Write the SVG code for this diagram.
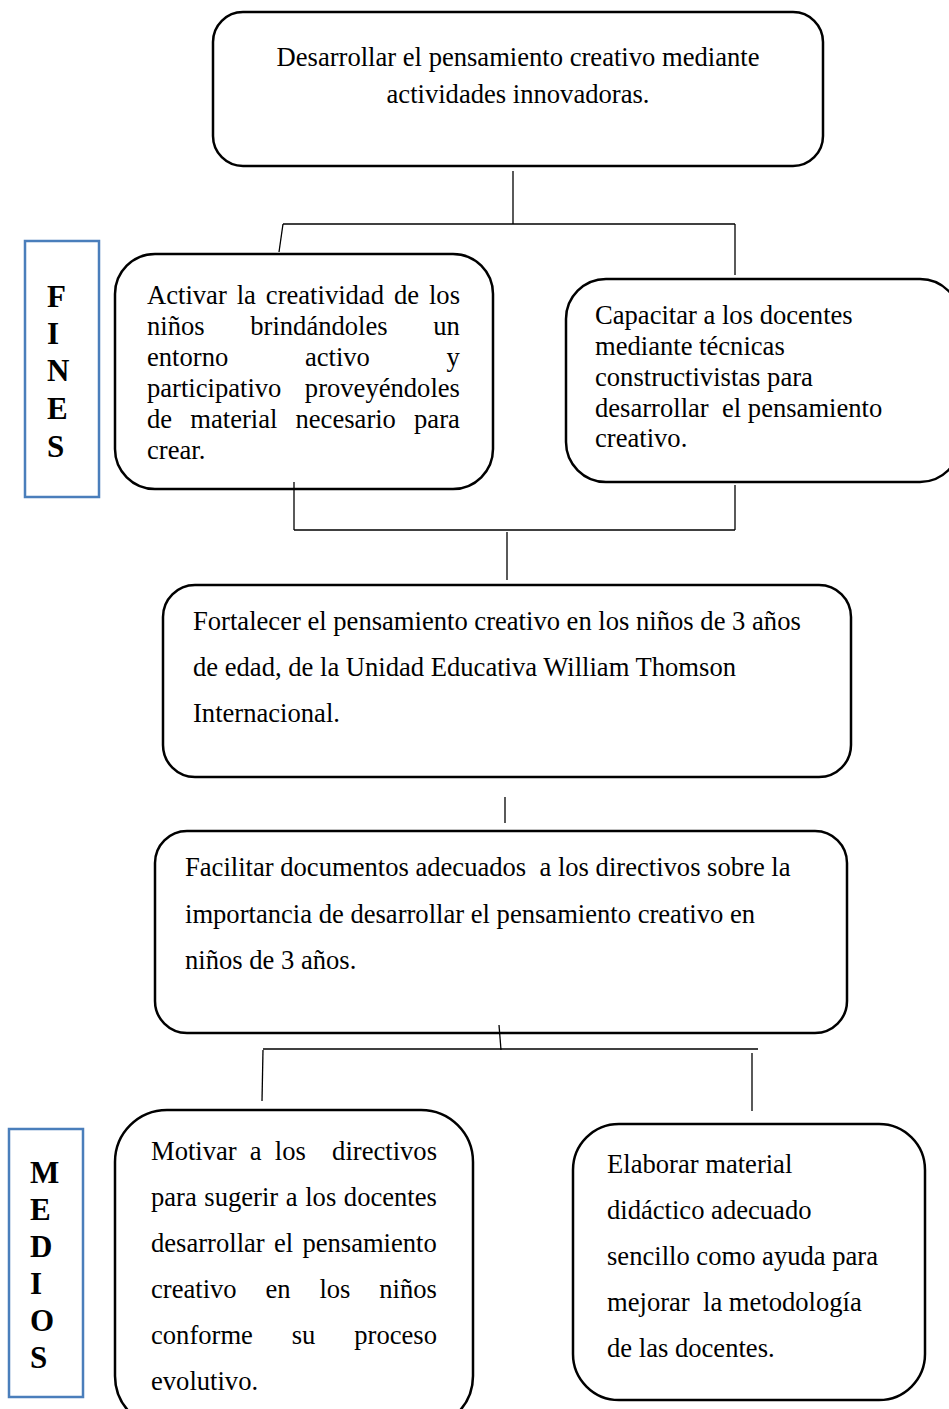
<svg xmlns="http://www.w3.org/2000/svg" width="949" height="1409" viewBox="0 0 949 1409">
<style>
.box{fill:#fff;stroke:#000;stroke-width:2.5}
.lab{fill:#fff;stroke:#4a7ebb;stroke-width:2.5}
.t{font-family:"Liberation Serif","Times New Roman",serif;font-size:26.6px;fill:#000}
.b{font-family:"Liberation Serif","Times New Roman",serif;font-size:31px;font-weight:bold;fill:#000}
.c{stroke:#000;stroke-width:1.3;fill:none}
</style>
<rect width="949" height="1409" fill="#fff"/>
<g id="fines">
<rect class="lab" x="25" y="241" width="74" height="256"/>
<text class="b" x="47"><tspan x="47" y="307">F</tspan><tspan x="47" y="344">I</tspan><tspan x="47" y="381">N</tspan><tspan x="47" y="419">E</tspan><tspan x="47" y="457">S</tspan></text>
</g>
<g id="medios">
<rect class="lab" x="9" y="1129" width="74" height="268"/>
<text class="b"><tspan x="30" y="1183">M</tspan><tspan x="30" y="1220">E</tspan><tspan x="30" y="1257">D</tspan><tspan x="30" y="1294">I</tspan><tspan x="30" y="1331">O</tspan><tspan x="30" y="1368">S</tspan></text>
</g>
<g id="n-top">
<rect class="box" x="213" y="12" width="610" height="154" rx="30"/>
<text class="t" text-anchor="middle"><tspan x="518" y="66">Desarrollar el pensamiento creativo mediante</tspan><tspan x="518" y="103">actividades innovadoras.</tspan></text>
</g>
<g id="n-activar">
<rect class="box" x="115" y="254" width="378" height="235" rx="40"/>
<text class="t" x="147" y="304" word-spacing="3.3">Activar la creatividad de los</text>
<text class="t" x="147" y="335" word-spacing="39">niños brindándoles un</text>
<text class="t" x="147" y="366" word-spacing="70">entorno activo y</text>
<text class="t" x="147" y="397" word-spacing="16.8">participativo proveyéndoles</text>
<text class="t" x="147" y="428" word-spacing="11.5">de material necesario para</text>
<text class="t" x="147" y="459">crear.</text>
</g>
<g id="n-capacitar">
<rect class="box" x="566" y="279" width="394" height="203" rx="40"/>
<text class="t" xml:space="preserve"><tspan x="595" y="324">Capacitar a los docentes</tspan><tspan x="595" y="355">mediante técnicas</tspan><tspan x="595" y="386">constructivistas para</tspan><tspan x="595" y="417">desarrollar  el pensamiento</tspan><tspan x="595" y="447">creativo.</tspan></text>
</g>
<g id="n-fortalecer">
<rect class="box" x="163" y="585" width="688" height="192" rx="32"/>
<text class="t"><tspan x="193" y="630">Fortalecer el pensamiento creativo en los niños de 3 años</tspan><tspan x="193" y="676">de edad, de la Unidad Educativa William Thomson</tspan><tspan x="193" y="722">Internacional.</tspan></text>
</g>
<g id="n-facilitar">
<rect class="box" x="155" y="831" width="692" height="202" rx="32"/>
<text class="t" xml:space="preserve"><tspan x="185" y="876">Facilitar documentos adecuados  a los directivos sobre la</tspan><tspan x="185" y="923">importancia de desarrollar el pensamiento creativo en</tspan><tspan x="185" y="969">niños de 3 años.</tspan></text>
</g>
<g id="n-motivar">
<rect class="box" x="115" y="1110" width="358" height="318" rx="52"/>
<text class="t" x="151" y="1160" word-spacing="6.5" xml:space="preserve">Motivar a los  directivos</text>
<text class="t" x="151" y="1206" word-spacing="0.95">para sugerir a los docentes</text>
<text class="t" x="151" y="1252" word-spacing="2.6">desarrollar el pensamiento</text>
<text class="t" x="151" y="1298" word-spacing="22.2">creativo en los niños</text>
<text class="t" x="151" y="1344" word-spacing="32.2">conforme su proceso</text>
<text class="t" x="151" y="1390">evolutivo.</text>
</g>
<g id="n-elaborar">
<rect class="box" x="573" y="1124" width="352" height="276" rx="46"/>
<text class="t" xml:space="preserve"><tspan x="607" y="1173">Elaborar material</tspan><tspan x="607" y="1219">didáctico adecuado</tspan><tspan x="607" y="1265">sencillo como ayuda para</tspan><tspan x="607" y="1311">mejorar  la metodología</tspan><tspan x="607" y="1357">de las docentes.</tspan></text>
</g>
<g id="connectors">
<line class="c" x1="513" y1="171" x2="513" y2="224"/>
<line class="c" x1="283" y1="224" x2="735" y2="224"/>
<line class="c" x1="283" y1="224" x2="279" y2="252"/>
<line class="c" x1="735" y1="224" x2="735" y2="275"/>
<line class="c" x1="294" y1="482" x2="294" y2="530"/>
<line class="c" x1="294" y1="530" x2="735" y2="530"/>
<line class="c" x1="735" y1="485" x2="735" y2="530"/>
<line class="c" x1="507" y1="532" x2="507" y2="580"/>
<line class="c" x1="505" y1="797" x2="505" y2="823"/>
<line class="c" x1="499" y1="1025" x2="501" y2="1050"/>
<line class="c" x1="263" y1="1049" x2="758" y2="1049"/>
<line class="c" x1="263" y1="1050" x2="262" y2="1101"/>
<line class="c" x1="752" y1="1053" x2="752" y2="1111"/>
</g>
</svg>
